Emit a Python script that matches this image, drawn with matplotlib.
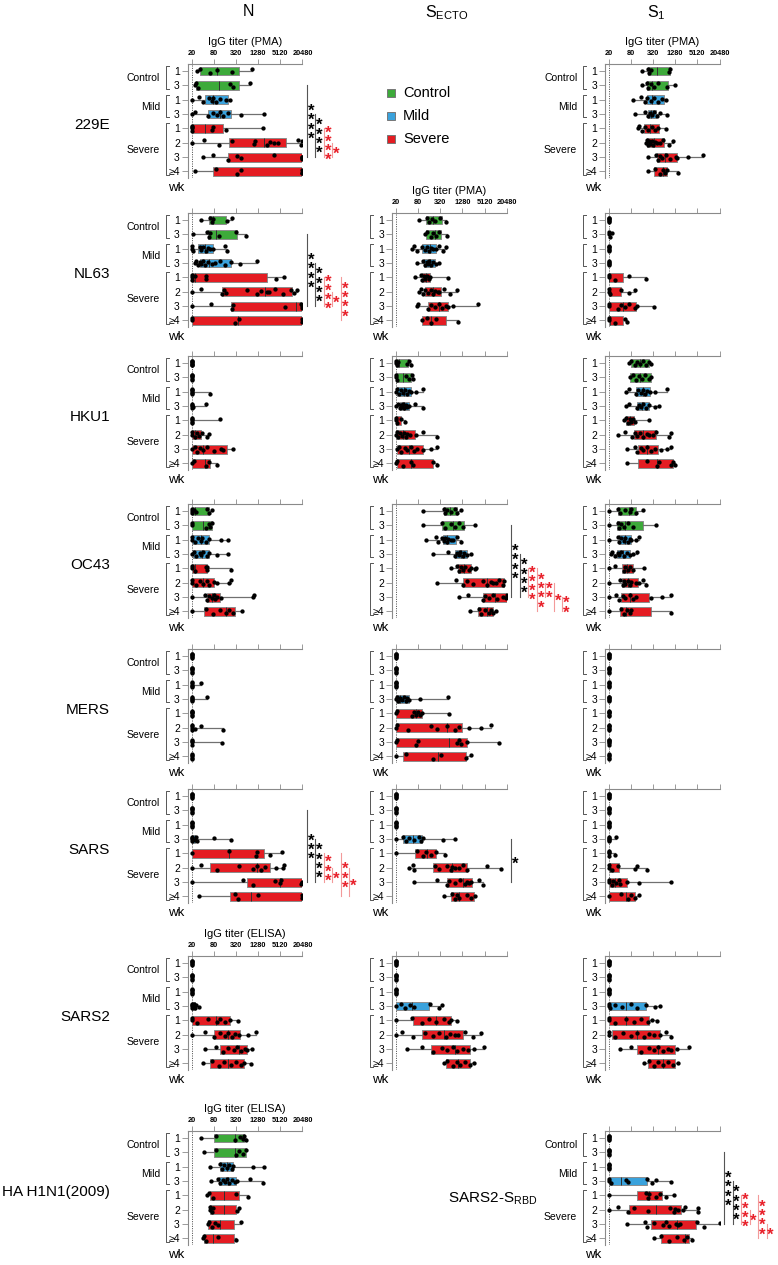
import matplotlib
matplotlib.use('Agg')
import matplotlib.pyplot as plt
from matplotlib.patches import Rectangle
from matplotlib.lines import Line2D
from matplotlib.ticker import NullLocator
from matplotlib.transforms import blended_transform_factory

plt.rcParams['font.family'] = ['Liberation Sans', 'DejaVu Sans']
plt.rcParams['mathtext.fontset'] = 'custom'
plt.rcParams['mathtext.rm'] = 'Liberation Sans'


# ── Data (IgG titers; box = q1, median, q3 per row) ────────────
ROW_LABELS = ['1', '3', '1', '3', '1', '2', '3', '≥4']
GROUPS = [(0, 1, 'Control'), (2, 3, 'Mild'), (4, 7, 'Severe')]
TICKS = [20, 80, 320, 1280, 5120, 20480]
FLAT = (20, 20, 20)

# N antigen
N_229E_BOX = [(34, 100, 394), (27, 113, 380), (46, 77, 190), (57, 117, 242),
              (20, 45, 139), (211, 1810, 7240), (197, 20480, 20480), (77, 20480, 20480)]
N_229E_PTS = [[28, 34, 65, 97, 258, 860],
              [25, 27, 30, 226, 260, 790],
              [20, 32, 42, 61, 70, 77, 92, 117, 171, 219],
              [20, 25, 57, 77, 98, 117, 144, 197, 453, 1874],
              [20, 20, 20, 21, 70, 77, 171, 1689],
              [20, 43, 113, 243, 970, 1040, 2230, 2740, 3380, 4460, 15600, 19100, 20480],
              [40, 77, 197, 343, 453, 3380, 19800, 20480, 20480, 20480],
              [25, 92, 343, 430, 20480, 20480, 20480]]

N_NL63_BOX = [(60, 75, 172), (55, 90, 345), (30, 45, 76), (34, 60, 240),
              (20, 25, 2170), (130, 2000, 10600), (230, 14000, 20480), (21, 370, 20480)]
N_NL63_PTS = [[35, 65, 70, 77, 185, 258],
              [22, 53, 59, 65, 110, 320, 600],
              [20, 21, 22, 34, 37, 41, 49, 57, 65, 74, 160, 185],
              [25, 27, 30, 34, 37, 41, 46, 57, 70, 86, 117, 160, 242, 408, 1160],
              [20, 20, 21, 25, 49, 49, 4050, 6530],
              [20, 37, 135, 150, 167, 640, 1160, 1580, 2170, 2560, 3620, 6090, 10240, 12180, 15000],
              [20, 67, 243, 269, 6760, 19100, 20480, 20480],
              [20, 21, 300, 392, 20480, 20480]]

N_HKU1_BOX = [FLAT, FLAT, FLAT, FLAT, FLAT, (20, 24, 35), (20, 40, 180), (20, 45, 62)]
N_HKU1_PTS = [[20, 20, 20, 20, 20, 20, 20],
              [20, 20, 20, 20, 20, 20],
              [20, 20, 20, 20, 20, 20, 65],
              [20, 20, 20, 20, 22, 50],
              [20, 20, 20, 20, 20, 115],
              [20, 21, 24, 28, 31, 39, 54, 59],
              [20, 24, 28, 33, 40, 54, 83, 124, 147, 275],
              [20, 23, 48, 61, 101]]

N_OC43_BOX = [(20, 25, 61), (20, 40, 70), (20, 36, 58), (22, 38, 61),
              (20, 24, 52), (21, 40, 79), (52, 70, 120), (44, 167, 300)]
N_OC43_PTS = [[20, 20, 20, 23, 26, 54, 61, 70],
              [20, 21, 48, 58, 64, 70],
              [20, 21, 24, 29, 36, 39, 48, 61, 124, 189],
              [20, 23, 26, 33, 37, 42, 54, 61, 101, 189],
              [20, 21, 24, 48, 52, 54, 242],
              [20, 21, 26, 33, 42, 54, 61, 79, 101, 214, 231],
              [20, 46, 54, 61, 70, 79, 89, 101, 124, 905, 1005],
              [20, 48, 75, 115, 167, 214, 275, 475]]

N_MERS_BOX = [FLAT] * 8
N_MERS_PTS = [[20, 20, 20, 20, 20, 20],
              [20, 20, 20, 20, 20, 20],
              [20, 20, 20, 20, 20, 37],
              [20, 20, 20, 20, 20, 54],
              [20, 20, 20, 20, 20, 20],
              [20, 20, 20, 21, 24, 37, 147],
              [20, 20, 20, 20, 130],
              [20, 20, 20, 20, 20]]

N_SARS_BOX = [FLAT, FLAT, FLAT, (20, 21, 24), (20, 210, 1900), (62, 1200, 2720),
              (640, 5000, 20480), (218, 845, 20480)]
N_SARS_PTS = [[20, 20, 20, 20, 20, 20],
              [20, 20, 20, 20, 20, 20],
              [20, 20, 20, 20, 20, 20],
              [20, 20, 20, 21, 24, 26, 28, 79, 242],
              [20, 210, 1115, 1200, 2740, 5880],
              [20, 36, 96, 400, 956, 1230, 1575, 2010, 4040, 6170, 6525],
              [20, 500, 905, 3620, 4980, 5490, 19100, 20480, 20480],
              [32, 300, 368, 1280, 20480, 20480]]

N_SARS2_BOX = [FLAT, FLAT, FLAT, (20, 21, 24), (20, 90, 226), (80, 200, 420),
               (120, 380, 640), (65, 200, 520)]
N_SARS2_PTS = [[20, 20, 20, 20, 20, 20],
               [20, 20, 20, 20, 20, 20],
               [20, 20, 20, 20, 20, 20],
               [20, 20, 20, 21, 22, 23, 25, 27, 32],
               [20, 20, 28, 57, 98, 121, 160, 226, 367],
               [20, 45, 80, 120, 160, 200, 250, 300, 400, 700, 1100],
               [45, 90, 140, 200, 280, 350, 450, 560, 640, 900],
               [40, 70, 110, 150, 230, 330, 430, 520, 800]]

N_HA_BOX = [(80, 300, 545), (82, 300, 600), (118, 180, 270), (110, 190, 330),
            (62, 150, 390), (63, 150, 330), (56, 120, 290), (43, 77, 290)]
N_HA_PTS = [[37, 92, 300, 411, 485, 527, 597],
            [43, 92, 320, 394, 505, 597],
            [63, 118, 131, 151, 179, 211, 244, 271, 943, 1887],
            [67, 106, 118, 139, 160, 179, 211, 244, 301, 348, 767, 1700],
            [53, 60, 77, 320, 690],
            [63, 65, 70, 77, 348, 394],
            [57, 60, 70, 86, 106, 428],
            [41, 44, 49, 106, 320]]

# S ecto antigen
E_NL63_BOX = [(130, 210, 350), (135, 230, 330), (105, 170, 250), (115, 165, 230),
              (100, 130, 170), (125, 200, 330), (150, 300, 510), (105, 180, 450)]
E_NL63_PTS = [[86, 136, 161, 193, 238, 320, 450],
              [125, 142, 184, 208, 249, 290, 485],
              [54, 63, 75, 105, 125, 142, 161, 184, 208, 249, 305, 375, 450],
              [75, 110, 125, 142, 149, 161, 184, 208, 249, 305],
              [66, 97, 105, 116, 125, 142, 154, 170, 510],
              [86, 97, 110, 125, 149, 184, 208, 238, 270, 305, 394, 577, 911],
              [75, 81, 149, 184, 238, 290, 348, 450, 510, 690, 3450],
              [105, 142, 184, 249, 965]]

E_HKU1_BOX = [(20, 25, 42), (20, 32, 52), (22, 33, 50), (26, 33, 45),
              (20, 20, 27), (20, 32, 65), (21, 45, 110), (21, 50, 207)]
E_HKU1_PTS = [[20, 20, 21, 23, 40, 46, 52],
              [20, 20, 21, 38, 46, 55, 60],
              [20, 22, 24, 28, 31, 36, 40, 46, 52, 70, 110],
              [20, 23, 26, 28, 30, 31, 34, 38, 40, 46, 67, 110],
              [20, 20, 21, 28, 36],
              [20, 21, 23, 26, 30, 33, 37, 40, 49, 70, 110, 265],
              [21, 24, 28, 36, 40, 52, 64, 76, 110, 182, 265],
              [20, 22, 31, 52, 59, 207, 265]]

E_OC43_BOX = [(400, 600, 900), (360, 700, 1400), (370, 500, 880), (823, 1150, 1750),
              (1000, 1400, 2245), (1290, 6000, 17600), (4550, 10000, 20480), (3500, 6000, 8900)]
E_OC43_PTS = [[110, 408, 440, 500, 610, 823, 930, 1200],
              [110, 368, 440, 610, 823, 1055, 1360, 2740],
              [135, 246, 286, 368, 408, 440, 475, 523, 610, 725, 930, 1200],
              [207, 523, 823, 930, 1005, 1115, 1290, 1430, 1750, 2245],
              [610, 930, 1055, 1200, 1360, 1545, 1980, 2245, 2740, 3040],
              [265, 860, 1290, 1750, 2540, 4780, 6130, 7500, 8910, 10650, 12700, 16750, 17600],
              [1005, 1835, 4550, 5410, 6950, 8900, 11500, 16750, 19000, 20480, 20480],
              [2080, 3520, 4210, 5410, 6950, 7870, 8910, 10170]]

E_MERS_BOX = [FLAT, FLAT, FLAT, (20, 26, 45), (20, 70, 100), (20, 500, 1260),
              (20, 550, 1750), (32, 270, 1620)]
E_MERS_PTS = [[20, 20, 20, 20, 20, 20],
              [20, 20, 20, 20, 20, 20],
              [20, 20, 20, 20, 20, 20],
              [20, 21, 23, 26, 30, 33, 37, 40, 46, 90, 523],
              [20, 21, 55, 64, 70, 82, 90, 100, 565],
              [20, 21, 43, 178, 260, 500, 823, 1005, 1890, 4210, 7870],
              [20, 21, 72, 82, 930, 1055, 1200, 1750, 12700],
              [20, 38, 201, 343, 1620, 2245]]

E_SARS_BOX = [FLAT, FLAT, FLAT, (32, 60, 100), (65, 140, 250), (210, 650, 1700),
              (475, 1300, 2400), (640, 1050, 2600)]
E_SARS_PTS = [[20, 20, 20, 20, 20, 20],
              [20, 20, 20, 20, 20, 20],
              [20, 20, 20, 20, 20, 20],
              [20, 32, 38, 44, 61, 83, 96, 109, 383, 782],
              [20, 75, 109, 135, 180, 253, 443],
              [46, 59, 64, 228, 294, 475, 610, 672, 823, 1055, 1290, 1750, 5960, 14400],
              [64, 260, 485, 550, 823, 1115, 1545, 1750, 1980, 2245, 3720, 4780],
              [417, 672, 782, 930, 1055, 1750, 2245, 2740]]

E_SARS2_BOX = [FLAT, FLAT, FLAT, (20, 55, 155), (60, 250, 640), (100, 400, 1300),
               (180, 800, 2000), (450, 1000, 2000)]
E_SARS2_PTS = [[20, 20, 20, 20, 20, 20],
               [20, 20, 20, 20, 20, 20],
               [20, 20, 20, 20, 20, 20],
               [20, 27, 36, 47, 61, 166, 293, 360],
               [20, 55, 100, 160, 250, 400, 550, 640, 900],
               [20, 30, 60, 120, 200, 300, 450, 600, 800, 1000, 1500, 2500, 4000],
               [40, 100, 200, 350, 500, 700, 900, 1300, 1800, 2600, 5000],
               [400, 500, 700, 900, 1100, 1500, 2000, 2600]]

# S1 antigen
S_229E_BOX = [(240, 400, 900), (216, 300, 840), (216, 300, 640), (230, 280, 380),
              (180, 260, 460), (220, 330, 640), (400, 680, 1400), (343, 600, 790)]
S_229E_PTS = [[157, 240, 254, 278, 845, 930],
              [158, 216, 240, 278, 330, 450, 790, 1280],
              [94, 148, 195, 216, 278, 343, 450, 553, 725],
              [104, 195, 230, 266, 296, 343, 405, 500, 756],
              [123, 136, 158, 195, 240, 296, 365, 450, 725],
              [207, 216, 230, 244, 266, 296, 328, 365, 405, 500, 614, 893, 1146],
              [230, 389, 450, 500, 553, 725, 930, 1355, 1470, 2940, 7200],
              [230, 365, 500, 590, 680, 790, 1570]]

S_NL63_BOX = [FLAT, FLAT, FLAT, FLAT, (20, 20, 50), (20, 22, 43), (20, 50, 110), (20, 22, 50)]
S_NL63_PTS = [[20, 20, 20, 20, 20, 20],
              [20, 20, 22, 24],
              [20, 20, 20, 20, 20, 20],
              [20, 20, 20, 20, 20],
              [20, 21, 29, 73, 200],
              [20, 20, 22, 43, 70, 106],
              [20, 21, 35, 44, 57, 73, 106, 121, 343],
              [20, 20, 30, 55, 61]]

S_HKU1_BOX = [(80, 140, 244), (75, 140, 275), (107, 170, 260), (116, 160, 244),
              (58, 78, 95), (100, 170, 391), (126, 215, 440), (126, 400, 1090)]
S_HKU1_PTS = [[70, 80, 103, 116, 139, 168, 205, 244, 290],
              [75, 90, 107, 131, 160, 190, 244, 277],
              [59, 70, 107, 125, 148, 168, 190, 215, 264, 355, 750],
              [59, 70, 116, 131, 148, 168, 205, 244, 355, 479],
              [51, 59, 65, 75, 80, 90, 102, 244],
              [35, 57, 84, 102, 121, 144, 176, 215, 256, 329, 391, 893, 1010],
              [61, 102, 116, 148, 176, 215, 277, 355, 516, 750, 965],
              [61, 215, 403, 456, 965, 1090, 1245]]

S_OC43_BOX = [(35, 70, 107), (34, 55, 168), (39, 55, 83), (33, 50, 75),
              (46, 62, 94), (46, 65, 125), (42, 75, 250), (40, 60, 290)]
S_OC43_PTS = [[20, 35, 41, 57, 74, 83, 107, 168],
              [20, 35, 39, 44, 53, 68, 94, 394],
              [20, 35, 39, 44, 51, 57, 65, 74, 83, 107, 136],
              [23, 25, 29, 35, 39, 44, 51, 61, 74, 94, 121],
              [20, 29, 51, 57, 65, 74, 94, 185],
              [20, 41, 48, 53, 57, 65, 74, 83, 107, 137, 168, 200],
              [20, 31, 37, 48, 57, 74, 94, 112, 277, 545, 1016],
              [20, 44, 51, 61, 74, 83, 970]]

S_MERS_BOX = [FLAT] * 8
S_MERS_PTS = [[20, 20, 20, 20, 20, 20],
              [20, 20, 20, 20, 20, 20],
              [20, 20, 20, 20, 20, 20],
              [20, 20, 20, 20, 20, 20],
              [20, 20, 20, 20, 20, 20],
              [20, 20, 20, 20, 20, 20],
              [20, 20, 20, 20, 20, 20],
              [20, 20, 20, 20, 20]]

S_SARS_BOX = [FLAT, FLAT, FLAT, FLAT, FLAT, (20, 22, 38), (20, 30, 61), (20, 60, 102)]
S_SARS_PTS = [[20, 20, 20, 20, 20, 20],
              [20, 20, 20, 20, 20, 20],
              [20, 20, 20, 20, 20, 20],
              [20, 20, 20, 20, 20, 32],
              [20, 20, 20, 20, 29],
              [20, 21, 24, 35, 102, 121, 215],
              [20, 21, 24, 27, 31, 37, 41, 61, 131, 1016],
              [20, 44, 65, 83, 102, 131]]

S_SARS2_BOX = [FLAT, FLAT, FLAT, (20, 60, 210), (20, 60, 250), (25, 120, 480),
               (120, 450, 1300), (230, 600, 1300)]
S_SARS2_PTS = [[20, 20, 20, 20, 20, 20],
               [20, 20, 20, 20, 20, 20],
               [20, 20, 20, 20, 20, 20],
               [20, 20, 22, 30, 45, 80, 120, 200, 370, 485],
               [20, 20, 30, 60, 100, 150, 230, 300, 400],
               [20, 20, 30, 50, 80, 120, 180, 250, 330, 480, 700, 1000],
               [40, 80, 150, 250, 330, 450, 600, 800, 1000, 1400, 3000],
               [180, 250, 350, 450, 600, 800, 1100, 1500]]

S_RBD_BOX = [FLAT, FLAT, FLAT, (20, 42, 220), (117, 250, 550), (72, 380, 1900),
             (290, 1400, 4700), (540, 2400, 3130)]
S_RBD_PTS = [[20, 20, 20, 20, 20, 20],
             [20, 20, 20, 20, 20, 20],
             [20, 20, 20, 20, 20, 20],
             [20, 21, 23, 60, 66, 220, 303, 389, 990],
             [20, 207, 229, 254, 389, 509, 725, 1170],
             [20, 35, 69, 96, 229, 950, 1170, 1300, 1575, 2065, 2390, 5300, 5490],
             [63, 194, 220, 350, 590, 725, 893, 1350, 1575, 1785, 5050, 7650, 20480],
             [350, 531, 856, 1440, 2290, 2600, 3700]]

# significance brackets: (row a, row b, stars, colour)
SIG_N_229E = [(1, 6, '****', 'k'), (3, 6, '****', 'k'), (4, 6, '****', 'r'), (5, 6, '*', 'r')]
SIG_N_NL63 = [(1, 6, '****', 'k'), (3, 6, '****', 'k'), (4, 6, '****', 'r'),
              (5, 6, '*', 'r'), (4, 7, '****', 'r')]
SIG_E_OC43 = [(1, 6, '****', 'k'), (3, 6, '****', 'k'), (4, 6, '****', 'r'), (4, 7, '****', 'r'),
              (5, 6, '**', 'r'), (5, 7, '*', 'r'), (6, 7, '**', 'r')]
SIG_N_SARS = [(1, 6, '***', 'k'), (3, 6, '****', 'k'), (4, 6, '***', 'r'),
              (5, 6, '*', 'r'), (4, 7, '***', 'r'), (5, 7, '*', 'r')]
SIG_E_SARS = [(3, 6, '*', 'k')]
SIG_S_RBD = [(1, 6, '****', 'k'), (3, 6, '****', 'k'), (4, 6, '****', 'r'),
             (5, 6, '*', 'r'), (4, 7, '****', 'r'), (6, 7, '*', 'r')]


# ── Layout (pixels) ────────────────────────────────────────────
W, H = 778, 1265
ROW_STEP = 14.35
SPINE_X = {'N': 188.2, 'E': 392.5, 'S': 605.3}
PAD_20 = 3.4          # px from spine to the 20 line
SPAN = 110.8          # px from 20 to 20480
BLOCK_Y = {'229E': 71, 'NL63': 220, 'HKU1': 363, 'OC43': 511,
           'MERS': 656, 'SARS': 796, 'SARS2': 963, 'last': 1138}

FILL = ['#3daa3a', '#3aa2dc', '#e41c22']
RED_STAR = '#e8202a'
RED_LINE = '#f39a9a'


def fx(px):
    return px / W


def fy(py):
    return 1 - py / H


fig = plt.figure(figsize=(W / 100, H / 100), dpi=100)


def panel(col, block, box, pts, tick_labels=False, xlabel=None,
          group_labels=False, sig=None):
    spine = SPINE_X[col]
    w_px = PAD_20 + SPAN
    top = BLOCK_Y[block] - 0.5 * ROW_STEP
    bottom = BLOCK_Y[block] + 7.45 * ROW_STEP
    ax = fig.add_axes([fx(spine), fy(bottom), w_px / W, (bottom - top) / H])
    ax.set_xscale('log', base=2)
    ax.set_xlim(20 * 2 ** (-PAD_20 / (SPAN / 10)), 20480)
    ax.set_ylim(7.45, -0.5)
    ax.patch.set_alpha(0)

    for s in ('right', 'bottom'):
        ax.spines[s].set_visible(False)
    for s in ('top', 'left'):
        ax.spines[s].set_color('#8a8a8a')
        ax.spines[s].set_linewidth(0.8)

    ax.axvline(20, color='#444444', lw=0.7, ls=(0, (1, 1.4)), zorder=1)

    # boxes + whiskers from the stored stats
    for i, ((q1, med, q3), p) in enumerate(zip(box, pts)):
        colour = FILL[0] if i < 2 else FILL[1] if i < 4 else FILL[2]
        stats = [dict(q1=q1, med=med, q3=q3, whislo=min(p), whishi=max(p), fliers=[])]
        kw = dict(positions=[i], widths=0.62, patch_artist=True, showcaps=False,
                  showfliers=False, manage_ticks=False,
                  boxprops=dict(facecolor=colour, edgecolor='#8c8c8c', lw=0.7),
                  medianprops=dict(color='#303030', lw=0.7),
                  whiskerprops=dict(color='#707070', lw=0.9))
        if q3 <= q1:
            kw['boxprops'] = dict(facecolor='none', edgecolor='none', lw=0)
            kw['medianprops'] = dict(color='none', lw=0)
        try:
            ax.bxp(stats, orientation='horizontal', **kw)
        except TypeError:
            ax.bxp(stats, vert=False, **kw)
        jit = [0.0, -0.17, 0.17, -0.09, 0.09, -0.13, 0.13, -0.04, 0.04]
        ax.plot(p, [i + jit[k % len(jit)] for k in range(len(p))], 'o',
                ms=3.1, color='black', mec='none', zorder=5)

    # axes cosmetics
    ax.set_yticks(range(8))
    ax.set_yticklabels(ROW_LABELS, fontsize=7.5)
    ax.tick_params(axis='y', length=4.5, width=0.6, color='#8a8a8a', pad=1.5)
    ax.xaxis.tick_top()
    ax.set_xticks(TICKS)
    ax.xaxis.set_minor_locator(NullLocator())
    if tick_labels:
        ax.set_xticklabels([str(t) for t in TICKS], fontsize=5.3, fontweight='bold',
                           family=['Liberation Sans Narrow', 'Liberation Sans'])
    else:
        ax.set_xticklabels([])
    ax.tick_params(axis='x', length=3.5, width=0.6, color='#8a8a8a', pad=1.2)
    if xlabel:
        ax.set_xlabel(xlabel, fontsize=8, labelpad=3.5)
        ax.xaxis.set_label_position('top')

    tr = blended_transform_factory(ax.transAxes, ax.transData)

    # group brackets
    bx = -22.5 / w_px
    serif = 3 / w_px
    for a, b, name in GROUPS:
        ax.add_line(Line2D([bx + serif, bx, bx, bx + serif],
                           [a - 0.36, a - 0.36, b + 0.22, b + 0.22],
                           transform=tr, clip_on=False, color='#555555', lw=0.7))
        if group_labels:
            ax.text(-28 / w_px, (a + b) / 2, name, transform=tr, ha='right',
                    va='center', fontsize=7.5)
    ax.text(-12 / w_px, 7 + 16.5 / ROW_STEP, 'wk', transform=tr, ha='center',
            va='center', fontsize=9.5)

    # significance lines with stacked stars
    if sig:
        for k, (a, b, stars, c) in enumerate(sig):
            xl = (w_px + 4.5 + 8.5 * k) / w_px
            lc = '#555555' if c == 'k' else RED_LINE
            sc = 'black' if c == 'k' else RED_STAR
            ax.add_line(Line2D([xl, xl], [a, b], transform=tr, clip_on=False,
                               color=lc, lw=0.8))
            ax.text(xl + 0.8 / w_px, (a + b) / 2 + 0.28, '\n'.join(stars), transform=tr,
                    ha='left', va='center', fontsize=12, fontweight='bold',
                    linespacing=0.52, color=sc)
    return ax


# ── Panels ─────────────────────────────────────────────────────
panel('N', '229E', N_229E_BOX, N_229E_PTS, True, 'IgG titer (PMA)', True, SIG_N_229E)
panel('N', 'NL63', N_NL63_BOX, N_NL63_PTS, group_labels=True, sig=SIG_N_NL63)
panel('N', 'HKU1', N_HKU1_BOX, N_HKU1_PTS, group_labels=True)
panel('N', 'OC43', N_OC43_BOX, N_OC43_PTS, group_labels=True)
panel('N', 'MERS', N_MERS_BOX, N_MERS_PTS, group_labels=True)
panel('N', 'SARS', N_SARS_BOX, N_SARS_PTS, group_labels=True, sig=SIG_N_SARS)
panel('N', 'SARS2', N_SARS2_BOX, N_SARS2_PTS, True, 'IgG titer (ELISA)', True)
panel('N', 'last', N_HA_BOX, N_HA_PTS, True, 'IgG titer (ELISA)', True)

panel('E', 'NL63', E_NL63_BOX, E_NL63_PTS, True, 'IgG titer (PMA)')
panel('E', 'HKU1', E_HKU1_BOX, E_HKU1_PTS)
panel('E', 'OC43', E_OC43_BOX, E_OC43_PTS, sig=SIG_E_OC43)
panel('E', 'MERS', E_MERS_BOX, E_MERS_PTS)
panel('E', 'SARS', E_SARS_BOX, E_SARS_PTS, sig=SIG_E_SARS)
panel('E', 'SARS2', E_SARS2_BOX, E_SARS2_PTS)

panel('S', '229E', S_229E_BOX, S_229E_PTS, True, 'IgG titer (PMA)', True)
panel('S', 'NL63', S_NL63_BOX, S_NL63_PTS)
panel('S', 'HKU1', S_HKU1_BOX, S_HKU1_PTS)
panel('S', 'OC43', S_OC43_BOX, S_OC43_PTS)
panel('S', 'MERS', S_MERS_BOX, S_MERS_PTS)
panel('S', 'SARS', S_SARS_BOX, S_SARS_PTS)
panel('S', 'SARS2', S_SARS2_BOX, S_SARS2_PTS)
panel('S', 'last', S_RBD_BOX, S_RBD_PTS, group_labels=True, sig=SIG_S_RBD)


# ── Column headers, row names, legend ─────────────────────────
fig.text(fx(248), fy(12), 'N', ha='center', va='center', fontsize=11.5)
fig.text(fx(447), fy(13), r'S$_{\mathregular{ECTO}}$', ha='center', va='center', fontsize=11.5)
fig.text(fx(656), fy(13), r'S$_{\mathregular{1}}$', ha='center', va='center', fontsize=11.5)

for name, key in [('229E', '229E'), ('NL63', 'NL63'), ('HKU1', 'HKU1'), ('OC43', 'OC43'),
                  ('MERS', 'MERS'), ('SARS', 'SARS'), ('SARS2', 'SARS2'),
                  ('HA H1N1(2009)', 'last')]:
    yc = BLOCK_Y[key] + 3.5 * ROW_STEP + 4
    fig.text(fx(110), fy(yc), name, ha='right', va='center', fontsize=11)
fig.text(fx(537), fy(BLOCK_Y['last'] + 3.5 * ROW_STEP + 10), r'SARS2-S$_{\mathregular{RBD}}$',
         ha='right', va='center', fontsize=11)

for k, (name, colour) in enumerate(zip(['Control', 'Mild', 'Severe'], FILL)):
    yc = 92.7 + 23.3 * k
    fig.patches.append(Rectangle((fx(387), fy(yc + 4)), 8 / W, 8 / H, transform=fig.transFigure,
                                 facecolor=colour, edgecolor='#777777', lw=0.7))
    fig.text(fx(403), fy(yc), name, ha='left', va='center', fontsize=10.5)

fig.savefig('out.png', dpi=100)
